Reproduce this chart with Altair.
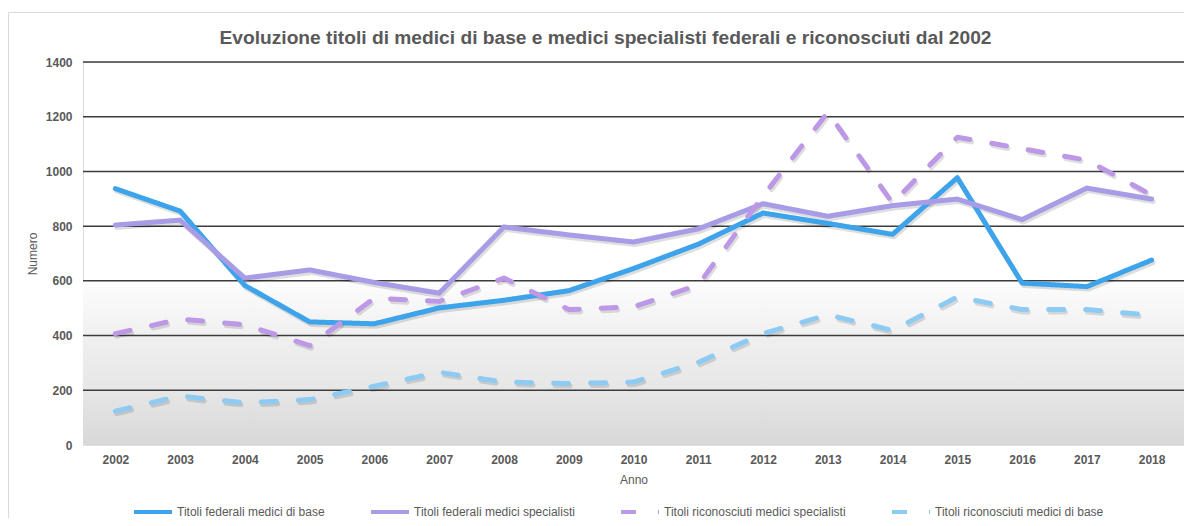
import altair as alt
import pandas as pd

years = [2002, 2003, 2004, 2005, 2006, 2007, 2008, 2009, 2010,
         2011, 2012, 2013, 2014, 2015, 2016, 2017, 2018]

fed_base = [937, 855, 583, 450, 443, 501, 529, 564, 645,
            734, 848, 810, 770, 977, 592, 579, 676]
fed_spec = [804, 822, 610, 640, 594, 555, 797, 768, 742,
            790, 882, 836, 875, 899, 824, 939, 899]
ric_spec = [407, 460, 440, 363, 537, 525, 610, 495, 505,
            585, 910, 1216, 885, 1125, 1083, 1041, 914]
ric_base = [124, 179, 154, 166, 215, 266, 230, 225, 230,
            302, 407, 476, 419, 541, 495, 495, 474]

series_names = [
    "Titoli federali medici di base",
    "Titoli federali medici specialisti",
    "Titoli riconosciuti medici specialisti",
    "Titoli riconosciuti medici di base",
]
series_values = [fed_base, fed_spec, ric_spec, ric_base]
series_colors = ["#3DA3EA", "#A99CE6", "#BC98E6", "#8DCBF3"]
dashes = [[1, 0], [1, 0], [15, 22], [15, 22]]

y_ticks = [0, 200, 400, 600, 800, 1000, 1200, 1400]
title_text = "Evoluzione titoli di medici di base e medici specialisti federali e riconosciuti dal 2002"

rows = []
for name, vals in zip(series_names, series_values):
    for yr, v in zip(years, vals):
        rows.append({"Anno": str(yr), "Numero": v, "Serie": name})
df = pd.DataFrame(rows)

grid_df = pd.DataFrame({"Numero": [t for t in y_ticks if t > 0]})

W, H = 1101, 383
FONT = "Liberation Sans"
GREY = "#595959"

one = pd.DataFrame({"a": [1]})

yscale = alt.Scale(domain=[0, 1400])

# chart frame
frame = alt.Chart(one).mark_rect(
    fillOpacity=0, stroke="#d9d9d9", strokeWidth=1
).encode(
    x=alt.value(-74.5), x2=alt.value(W + 20),
    y=alt.value(-49.5), y2=alt.value(H + 100),
)

# chart title as text
title = alt.Chart(one).mark_text(
    font=FONT, fontSize=19.2, fontWeight="bold", color=GREY,
    align="center", baseline="alphabetic",
).encode(
    x=alt.value(W / 2 - 28), y=alt.value(-18), text=alt.value(title_text),
)

# gradient background in lower part of plot
grad = alt.Chart(one).mark_rect(
    color=alt.Gradient(
        gradient="linear",
        stops=[
            alt.GradientStop(color="#fdfdfd", offset=0),
            alt.GradientStop(color="#f0f0f0", offset=0.33),
            alt.GradientStop(color="#e6e6e6", offset=0.67),
            alt.GradientStop(color="#d8d8d8", offset=1),
        ],
        x1=0, x2=0, y1=0, y2=1,
    )
).encode(
    x=alt.value(0), x2=alt.value(W),
    y=alt.Y(datum=600, type="quantitative", scale=yscale),
    y2=alt.Y2(datum=0),
)

grid = alt.Chart(grid_df).mark_rule(color="#3c3c3c", strokeWidth=1.5).encode(
    y=alt.Y("Numero:Q", scale=yscale),
    x=alt.value(0), x2=alt.value(W),
)

xenc = alt.X(
    "Anno:O",
    sort=[str(y) for y in years],
    axis=alt.Axis(
        title="Anno", labelAngle=0, labelFont=FONT, labelFontSize=12,
        labelFontWeight="bold", labelColor=GREY, labelPadding=9,
        ticks=False, domain=False, grid=False,
        titleFont=FONT, titleFontSize=12, titleFontWeight="normal",
        titleColor=GREY, titlePadding=9,
    ),
)
yenc = alt.Y(
    "Numero:Q",
    scale=yscale,
    axis=alt.Axis(
        title="Numero", values=y_ticks, format="d", labelFont=FONT,
        labelFontSize=12, labelFontWeight="bold", labelColor=GREY,
        labelPadding=11, ticks=False, domain=False, grid=False,
        titleFont=FONT, titleFontSize=12, titleFontWeight="normal",
        titleColor=GREY, titlePadding=6,
    ),
)

solid_names = series_names[:2]
dash_names = series_names[2:]

shadow_solid = alt.Chart(df).transform_filter(
    alt.FieldOneOfPredicate(field="Serie", oneOf=solid_names)
).mark_line(
    color="#000000", opacity=0.13, strokeWidth=5, xOffset=1.5, yOffset=2.5,
    strokeCap="round", strokeJoin="round"
).encode(x=xenc, y=yenc, detail="Serie:N")

shadow_dash = alt.Chart(df).transform_filter(
    alt.FieldOneOfPredicate(field="Serie", oneOf=dash_names)
).mark_line(
    color="#000000", opacity=0.13, strokeWidth=5, xOffset=1.5, yOffset=2.5,
    strokeCap="round", strokeJoin="round", strokeDash=[15, 22]
).encode(x=xenc, y=yenc, detail="Serie:N")

legend = alt.Legend(
    title=None, orient="none", legendX=49, legendY=429,
    direction="horizontal", symbolType="stroke", symbolSize=1444,
    symbolStrokeWidth=4, labelFont=FONT, labelFontSize=12,
    labelColor=GREY, labelOffset=3, columnPadding=38,
    labelLimit=400, padding=0,
)

lines = alt.Chart(df).mark_line(
    strokeWidth=5, strokeCap="round", strokeJoin="round"
).encode(
    x=xenc,
    y=yenc,
    color=alt.Color(
        "Serie:N",
        scale=alt.Scale(domain=series_names, range=series_colors),
        legend=legend,
    ),
    strokeDash=alt.StrokeDash(
        "Serie:N",
        scale=alt.Scale(domain=series_names, range=dashes),
        legend=legend,
    ),
    order=alt.Order("Anno:O"),
)

chart = alt.layer(frame, title, grad, grid, shadow_dash, shadow_solid, lines).properties(
    width=W,
    height=H,
    autosize=alt.AutoSizeParams(type="none"),
    padding={"left": 75, "top": 54, "right": 0, "bottom": 73},
).configure_view(strokeWidth=0).configure(background="white")

chart.save("out.html", embed_options={"renderer": "svg", "actions": False})
